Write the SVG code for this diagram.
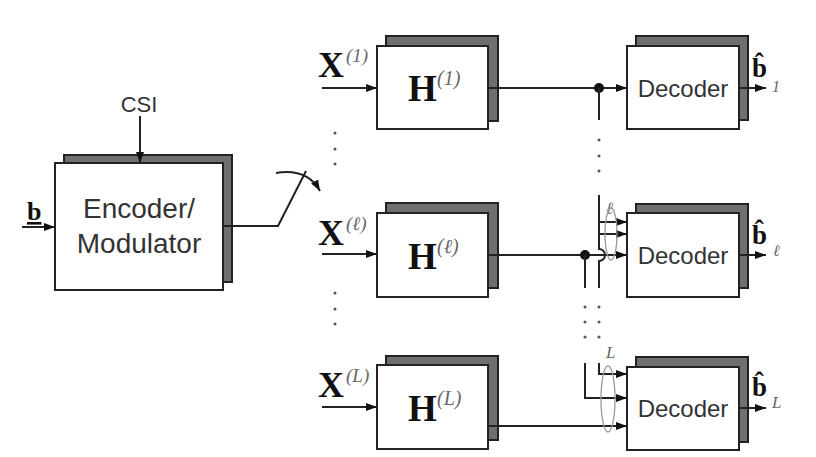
<svg xmlns="http://www.w3.org/2000/svg" width="816" height="457" viewBox="0 0 816 457">
<style>
.sh{fill:#6f6f6f;stroke:#222;stroke-width:2}
.fr{fill:#fff;stroke:#222;stroke-width:2}
.ln{fill:none;stroke:#222;stroke-width:2}
.ar{fill:none;stroke:#222;stroke-width:2;marker-end:url(#ah)}
.sans{font-family:"Liberation Sans",Arial,sans-serif;fill:#333}
.bold{font-family:"Liberation Serif","Times New Roman",serif;font-weight:bold;fill:#111}
.sup{font-family:"Liberation Serif","Times New Roman",serif;font-style:italic;fill:#666}
.dot{fill:#555}
</style>
<defs>
<marker id="ah" markerUnits="userSpaceOnUse" markerWidth="11" markerHeight="8" refX="11" refY="4" orient="auto">
<path d="M0,0 L11,4 L0,8 z" fill="#111"/>
</marker>
</defs>

<g id="encoder">
<rect class="sh" x="64" y="155" width="168" height="127"/>
<rect class="fr" x="55" y="163" width="168" height="127"/>
<text class="sans" x="139" y="218" font-size="28" text-anchor="middle">Encoder/</text>
<text class="sans" x="139" y="253" font-size="28" text-anchor="middle">Modulator</text>
</g>
<text class="sans" x="139" y="112" font-size="22" text-anchor="middle">CSI</text>
<text class="bold" x="27" y="220" font-size="26" text-decoration="underline">b</text>

<g id="h1">
<rect class="sh" x="386" y="36" width="112" height="85"/>
<rect class="fr" x="377" y="46" width="111" height="83"/>
<text class="bold" x="408" y="101" font-size="37">H</text>
<text class="sup" x="437" y="85" font-size="20">(1)</text>
</g>
<g id="hl">
<rect class="sh" x="386" y="203" width="112" height="85"/>
<rect class="fr" x="377" y="213" width="111" height="84"/>
<text class="bold" x="408" y="269" font-size="37">H</text>
<text class="sup" x="437" y="253" font-size="20">(ℓ)</text>
</g>
<g id="hL">
<rect class="sh" x="386" y="356" width="112" height="84"/>
<rect class="fr" x="377" y="365" width="111" height="84"/>
<text class="bold" x="408" y="421" font-size="37">H</text>
<text class="sup" x="437" y="405" font-size="20">(L)</text>
</g>

<g id="d1">
<rect class="sh" x="636" y="36" width="112" height="84"/>
<rect class="fr" x="627" y="46" width="112" height="83"/>
<text class="sans" x="683" y="97" font-size="24" text-anchor="middle">Decoder</text>
</g>
<g id="dl">
<rect class="sh" x="636" y="204" width="112" height="84"/>
<rect class="fr" x="627" y="213" width="112" height="84"/>
<text class="sans" x="683" y="264" font-size="24" text-anchor="middle">Decoder</text>
</g>
<g id="dL">
<rect class="sh" x="636" y="357" width="112" height="85"/>
<rect class="fr" x="627" y="367" width="112" height="83"/>
<text class="sans" x="683" y="417" font-size="24" text-anchor="middle">Decoder</text>
</g>

<g id="labels">
<text class="bold" x="318" y="77" font-size="36">X</text>
<text class="sup" x="346" y="62" font-size="19">(1)</text>
<text class="bold" x="318" y="245" font-size="36">X</text>
<text class="sup" x="346" y="230" font-size="19">(ℓ)</text>
<text class="bold" x="318" y="397" font-size="36">X</text>
<text class="sup" x="346" y="382" font-size="19">(L)</text>

<text class="bold" x="752" y="77" font-size="27">b&#x302;</text>
<text class="sup" x="772" y="92" font-size="16">1</text>
<text class="bold" x="752" y="244" font-size="27">b&#x302;</text>
<text class="sup" x="773" y="256" font-size="16">ℓ</text>
<text class="bold" x="752" y="396" font-size="27">b&#x302;</text>
<text class="sup" x="772" y="408" font-size="17">L</text>

<text class="sup" x="606" y="214" font-size="17">ℓ</text>
<text class="sup" x="606" y="358" font-size="17">L</text>
</g>

<g id="connectors">
<path class="ar" d="M140,116 V163"/>
<path class="ar" d="M22,227 H55"/>
<path class="ln" d="M223,226 H278 L306,171"/>
<path class="ar" d="M276,173 Q307,168 320,191"/>

<path class="ar" d="M322,88 H377"/>
<path class="ar" d="M322,254 H377"/>
<path class="ar" d="M322,407 H377"/>

<path class="ar" d="M488,88 H627"/>
<path class="ar" d="M488,255 H627"/>
<path class="ar" d="M488,426 H627"/>

<path class="ar" d="M739,88 H766"/>
<path class="ar" d="M739,255 H766"/>
<path class="ar" d="M739,408 H766"/>

<circle cx="599" cy="88" r="5" fill="#111"/>
<circle cx="585" cy="255" r="5" fill="#111"/>
<path class="ln" d="M599,88 V120"/>
<path class="ln" d="M599,195 V249 A6,6 0 0 1 599,261 V288"/>
<path class="ln" d="M585,255 V288"/>
<path class="ar" d="M599,222 H627"/>
<path class="ar" d="M599,234 H627"/>
<ellipse cx="611" cy="234" rx="6" ry="26" fill="none" stroke="#999" stroke-width="1.3"/>

<path class="ar" d="M585,363 V398 H627"/>
<path class="ar" d="M599,363 V374 H627"/>
<ellipse cx="608" cy="399" rx="7" ry="33" fill="none" stroke="#999" stroke-width="1.3"/>
</g>

<g id="dots">
<circle class="dot" cx="335" cy="133" r="1.5"/>
<circle class="dot" cx="335" cy="149" r="1.5"/>
<circle class="dot" cx="335" cy="164" r="1.5"/>
<circle class="dot" cx="335" cy="293" r="1.5"/>
<circle class="dot" cx="335" cy="309" r="1.5"/>
<circle class="dot" cx="335" cy="324" r="1.5"/>
<circle class="dot" cx="599" cy="140" r="1.5"/>
<circle class="dot" cx="599" cy="156" r="1.5"/>
<circle class="dot" cx="599" cy="171" r="1.5"/>
<circle class="dot" cx="585" cy="307" r="1.5"/>
<circle class="dot" cx="585" cy="322" r="1.5"/>
<circle class="dot" cx="585" cy="337" r="1.5"/>
<circle class="dot" cx="599" cy="307" r="1.5"/>
<circle class="dot" cx="599" cy="322" r="1.5"/>
<circle class="dot" cx="599" cy="337" r="1.5"/>
</g>
</svg>
